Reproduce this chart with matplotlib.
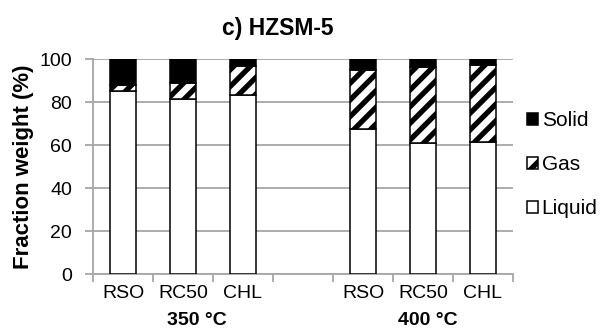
import matplotlib
matplotlib.use("Agg")
import matplotlib.pyplot as plt
from matplotlib.patches import Patch
import numpy as np

plt.rcParams['font.family'] = ['Liberation Sans', 'DejaVu Sans']
plt.rcParams['hatch.linewidth'] = 3.8
plt.rcParams['hatch.color'] = 'black'

# Feedstocks per temperature; an empty slot separates the two groups
categories = ["RSO", "RC50", "CHL", "", "RSO", "RC50", "CHL"]
groups = ["350 °C", "400 °C"]
liquid = [85.4, 81.4, 83.4, np.nan, 67.6, 61.2, 61.7]
gas = [2.6, 7.4, 13.6, np.nan, 27.4, 35.4, 35.6]
solid = [12.0, 11.2, 3.0, np.nan, 5.0, 3.4, 2.7]
yticks = [0, 20, 40, 60, 80, 100]

fig = plt.figure(figsize=(6.03, 3.36), dpi=100)
ax = fig.add_axes([93 / 603, 1 - 274.3 / 336, 420 / 603, 215 / 336])

x = np.arange(len(categories))
liq = np.array(liquid)
gs = np.array(gas)
sol = np.array(solid)
w = 0.42
edge = dict(edgecolor='black', linewidth=1.1, zorder=3)
ax.bar(x, liq, w, color='white', **edge)
ax.bar(x, gs, w, bottom=liq, color='white', hatch='//', **edge)
ax.bar(x, sol, w, bottom=liq + gs, color='black', **edge)

grey = '#a6a6a6'
ax.set_ylim(0, 100)
ax.set_xlim(-0.5, len(categories) - 0.5)
ax.set_yticks(yticks)
ax.yaxis.grid(True, color=grey, linewidth=1.3, zorder=0)
ax.set_axisbelow(True)
for s in ['top', 'right']:
    ax.spines[s].set_visible(False)
for s in ['left', 'bottom']:
    ax.spines[s].set_color(grey)
    ax.spines[s].set_linewidth(1.3)
ax.tick_params(axis='y', length=6, width=1.3, color=grey, labelsize=14, pad=9)

# Category labels centred in slots, tick marks on slot boundaries
ax.set_xticks(np.arange(-0.5, len(categories), 1.0))
ax.set_xticklabels([])
ax.tick_params(axis='x', length=6, width=1.3, color=grey)
for xi, lab in zip(x, categories):
    ax.text(xi, -9.0, lab, ha='center', va='center', fontsize=14,
            transform=ax.transData, clip_on=False)
for xg, lab in zip([1.23, 5.08], groups):
    ax.text(xg, -21.5, lab, ha='center', va='center', fontsize=14,
            fontweight='bold', clip_on=False)

ax.set_ylabel("Fraction weight (%)", fontsize=16, fontweight='bold', labelpad=4)
fig.text(278 / 603, 1 - 29 / 336, "c) HZSM-5", ha='center', va='center',
         fontsize=16.5, fontweight='bold')

handles = [Patch(facecolor='black', edgecolor='black', linewidth=1.1, label='Solid'),
           Patch(facecolor='white', edgecolor='black', linewidth=1.1, hatch='/', label='Gas'),
           Patch(facecolor='white', edgecolor='black', linewidth=1.1, label='Liquid')]
fig.legend(handles=handles, loc='center left', bbox_to_anchor=(527 / 603, 1 - 165 / 336),
           frameon=False, fontsize=15, handlelength=0.55, handleheight=0.55,
           handletextpad=0.15, labelspacing=1.2, borderaxespad=0, borderpad=0)

fig.savefig("out.png", dpi=100)
